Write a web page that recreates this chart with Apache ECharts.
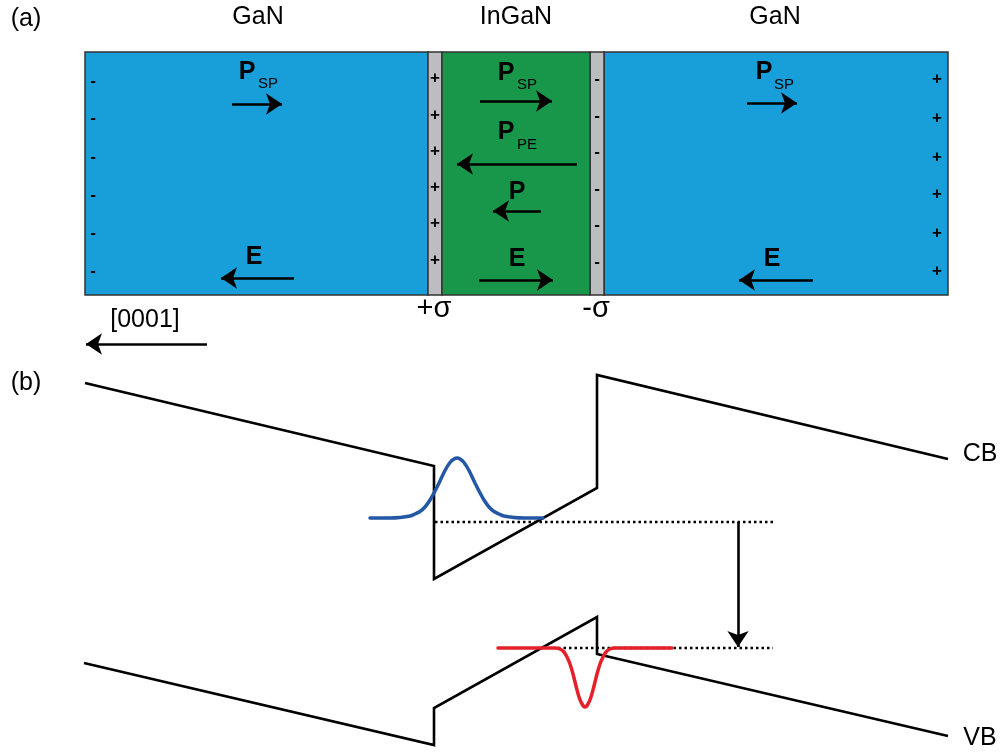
<!DOCTYPE html>
<html>
<head>
<meta charset="utf-8">
<title>GaN / InGaN / GaN polarization and band diagram</title>
<script src="https://cdn.jsdelivr.net/npm/echarts@6/dist/echarts.min.js"></script>
<style>
  html, body { margin: 0; padding: 0; background: #ffffff; }
  #chart { width: 1003px; height: 753px; }
</style>
</head>
<body>
<div id="chart"></div>
<script>
// ---- layer slabs of panel (a): [x0, x1, y0, y1] ----
const gaNLayers = [[85, 428, 52, 295], [604, 948, 52, 295]];
const interfaceStrips = [[428, 442, 52, 295], [590, 604, 52, 295]];
const inGaNLayer = [[442, 590, 52, 295]];

// ---- fixed interface / surface charges ----
const leftSurfaceMinus = [[93, 81], [93, 118], [93, 157], [93, 195], [93, 233], [93, 271]];
const leftInterfacePlus = [[435, 78], [435, 115], [435, 151], [435, 187], [435, 223], [435, 260]];
const rightInterfaceMinus = [[597, 79], [597, 116], [597, 152], [597, 189], [597, 225], [597, 262]];
const rightSurfacePlus = [[937, 79], [937, 118], [937, 157], [937, 194], [937, 233], [937, 271]];

// ---- vectors: [xStart, yStart, xEnd, yEnd] ----
const vectors = [
  [232, 104, 282, 104],   // P_SP, left GaN
  [294, 278, 221, 278],   // E, left GaN
  [480, 101, 552, 101],   // P_SP, InGaN
  [577, 164, 457, 164],   // P_PE, InGaN
  [541, 211, 493, 211],   // P, InGaN
  [479, 280, 553, 280],   // E, InGaN
  [747, 103, 797, 103],   // P_SP, right GaN
  [813, 280, 739, 280],   // E, right GaN
  [207, 344, 86, 344],    // [0001] direction
  [738, 522, 738, 647]    // transition energy
];

// ---- band edges of panel (b) ----
const conductionBand = [[85, 383], [434, 466], [434, 579], [597, 488], [597, 375], [948, 459]];
const valenceBand = [[84, 663], [434, 745], [434, 708], [597, 617], [597, 654], [948, 736]];
const electronLevel = [[435, 522], [773, 522]];
const holeLevel = [[558, 648], [773, 648]];

// ---- confined wavefunctions ----
const electronWave = [
  [370, 518], [390, 518], [400, 517.5], [410, 516], [415, 514], [420, 511.5], [425, 507],
  [430, 500], [435, 491], [440, 481], [445, 470.5], [450, 462.5], [454, 459], [457, 458],
  [460, 459], [464, 462.5], [469, 470.5], [474, 481], [479, 491], [484, 500], [489, 507],
  [494, 511.5], [499, 514], [504, 516], [514, 517.5], [524, 518], [543, 518]
];
const holeWave = [
  [498, 648], [540, 648], [555, 648], [560, 649], [564, 652], [567, 657], [570, 664],
  [573, 674], [576, 686], [579, 697], [582, 704], [585, 707], [588, 704], [591, 697],
  [594, 686], [597, 674], [600, 664], [603, 657], [606, 652], [610, 649], [615, 648],
  [640, 648], [672, 648]
];

// ---- text ----
const regularLabels = [
  ['(a)', 26, 19], ['GaN', 258, 17], ['InGaN', 516, 17], ['GaN', 775, 17],
  ['[0001]', 145, 320], ['(b)', 26, 383], ['CB', 980, 454], ['VB', 980, 738]
];
const chargeLabels = [['+σ', 434, 309], ['-σ', 596, 309]];
const boldLabels = [
  ['P', 247, 72], ['E', 254, 257],
  ['P', 506, 73], ['P', 506, 132], ['P', 517, 192], ['E', 517, 259],
  ['P', 764, 72], ['E', 772, 259]
];
const subscripts = [
  ['SP', 268, 84], ['SP', 527, 85], ['PE', 527, 145], ['SP', 784, 85]
];

const FONT = '"Liberation Sans", Arial, Helvetica, sans-serif';

function rectSeries(data, fill) {
  return {
    type: 'custom',
    coordinateSystem: 'cartesian2d',
    data: data,
    silent: true,
    z: 1,
    renderItem: function (params, api) {
      const a = api.coord([api.value(0), api.value(2)]);
      const b = api.coord([api.value(1), api.value(3)]);
      return {
        type: 'rect',
        shape: { x: a[0], y: a[1], width: b[0] - a[0], height: b[1] - a[1] },
        style: { fill: fill, stroke: '#333333', lineWidth: 1.5 }
      };
    }
  };
}

function textSeries(items, font, z) {
  return {
    type: 'custom',
    coordinateSystem: 'cartesian2d',
    data: items.map(function (d) { return [d[1], d[2]]; }),
    silent: true,
    z: z || 5,
    renderItem: function (params, api) {
      const p = api.coord([api.value(0), api.value(1)]);
      return {
        type: 'text',
        x: p[0],
        y: p[1],
        style: {
          text: items[params.dataIndex][0],
          font: font,
          fill: '#000000',
          align: 'center',
          verticalAlign: 'middle'
        }
      };
    }
  };
}

function signSeries(points, sign) {
  return textSeries(points.map(function (p) { return [sign, p[0], p[1]]; }), 'bold 17px ' + FONT, 4);
}

function pathSeries(points, color, width, extra) {
  return Object.assign({
    type: 'line',
    data: points,
    showSymbol: false,
    symbol: 'none',
    silent: true,
    lineStyle: { color: color, width: width, join: 'miter', cap: 'butt' },
    z: 3
  }, extra || {});
}

const chart = echarts.init(document.getElementById('chart'), null, { renderer: 'canvas' });

chart.setOption({
  animation: false,
  backgroundColor: '#ffffff',
  grid: { left: 0, right: 0, top: 0, bottom: 0 },
  xAxis: { type: 'value', min: 0, max: 1003, show: false },
  yAxis: { type: 'value', min: 0, max: 753, inverse: true, show: false },
  series: [
    rectSeries(gaNLayers, '#189ed8'),
    rectSeries(interfaceStrips, '#bcbdc0'),
    rectSeries(inGaNLayer, '#18974a'),

    signSeries(leftSurfaceMinus, '-'),
    signSeries(leftInterfacePlus, '+'),
    signSeries(rightInterfaceMinus, '-'),
    signSeries(rightSurfacePlus, '+'),

    {
      type: 'lines',
      coordinateSystem: 'cartesian2d',
      silent: true,
      z: 4,
      data: vectors.map(function (v) { return { coords: [[v[0], v[1]], [v[2], v[3]]] }; }),
      symbol: ['none', 'arrow'],
      symbolSize: [12, 16],
      lineStyle: { color: '#000000', width: 2.6, opacity: 1, curveness: 0 }
    },

    pathSeries(conductionBand, '#000000', 2.6),
    pathSeries(valenceBand, '#000000', 2.6),
    pathSeries(electronLevel, '#000000', 2.5, { lineStyle: { color: '#000000', width: 2.5, type: [2.5, 3] } }),
    pathSeries(holeLevel, '#000000', 2.5, { lineStyle: { color: '#000000', width: 2.5, type: [2.5, 3] } }),
    pathSeries(electronWave, '#2457a5', 3.5, { smooth: 0.3, z: 6, lineStyle: { color: '#2457a5', width: 3.5, cap: 'round', join: 'round' } }),
    pathSeries(holeWave, '#e5202b', 3.5, { smooth: 0.3, z: 6, lineStyle: { color: '#e5202b', width: 3.5, cap: 'round', join: 'round' } }),

    textSeries(regularLabels, '25px ' + FONT),
    textSeries(chargeLabels, '29px ' + FONT),
    textSeries(boldLabels, 'bold 25px ' + FONT),
    textSeries(subscripts, '15px ' + FONT)
  ]
});
</script>
</body>
</html>
